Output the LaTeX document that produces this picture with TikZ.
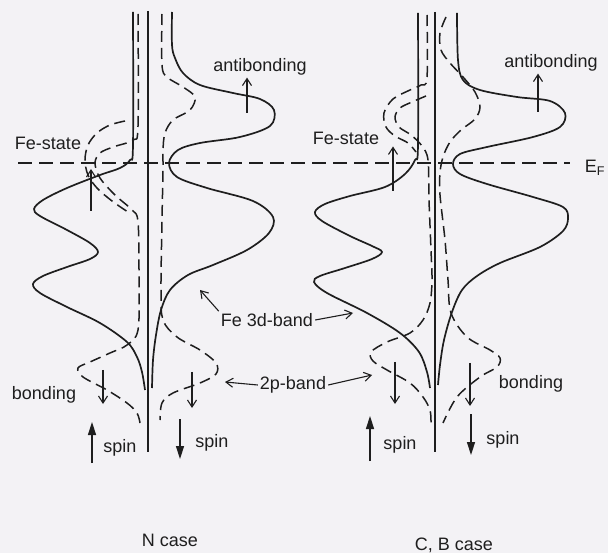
\documentclass[tikz,border=0pt]{standalone}
\usepackage{fontspec}
\setmainfont{Liberation Sans}
\usepackage{tikz}
\usetikzlibrary{arrows.meta}
\definecolor{paper}{RGB}{243,242,245}
\definecolor{ink}{RGB}{30,30,30}

\begin{document}
\begin{tikzpicture}[
      x=1pt, y=-1pt,
      >={Straight Barb[length=7pt, width=9pt]},
      every node/.style={font=\fontsize{18}{20}\selectfont, text=ink, inner sep=2pt},
      dos/.style={draw=ink, line width=1.7pt},
      pdos/.style={draw=ink, line width=1.5pt, dash pattern=on 11pt off 6pt},
      axis/.style={draw=ink, line width=1.2pt},
      fermi/.style={draw=ink, line width=1.3pt, dash pattern=on 14pt off 7pt},
      thin arrow/.style={draw=ink, line width=1.1pt, ->},
      spin arrow/.style={draw=ink, line width=1.5pt, -{Triangle[length=13pt, width=8pt]}},
    ]

    \fill[paper] (0,0) rectangle (608,553);

    % N case
    \draw[axis] (148,11) -- (148,452);
    \draw[dos] plot[smooth, tension=0.55] coordinates {
      (133,12) (133,145) (130,160) (120,168) (100,175) (67,188) (43,200)
      (34,209) (40,216) (67,230) (90,243) (98,252) (90,259) (67,267)
      (43,276) (33,284) (40,293) (67,307) (100,323) (127,342) (137,357)
      (142,372) (145,390)};
    \draw[dos] plot[smooth, tension=0.55] coordinates {
      (172,12) (172,45) (175,58) (183,73) (200,85) (233,93) (260,99)
      (274,110) (270,126) (240,137) (200,143) (178,150) (169,163) (177,177)
      (207,188) (253,201) (273,217) (269,233) (247,250) (213,265) (188,275)
      (170,290) (161,310) (156,335) (153,360) (152,388)};
    \draw[pdos] plot[smooth, tension=0.55] coordinates {
      (138,14) (138,126) (133,140) (113,147) (100,153) (95,163) (100,178)
      (115,195) (132,210) (138,222) (139,280) (138,330) (127,345) (110,353)
      (90,362) (78,368) (83,377) (107,390) (127,403) (137,413) (140,423)};
    \draw[pdos] plot[smooth, tension=0.55] coordinates {
      (125,121) (110,125) (97,133) (88,145) (85,160) (88,175) (97,188)
      (112,201) (128,212)};
    \draw[pdos] plot[smooth, tension=0.55] coordinates {
      (162,14) (162,65) (167,77) (183,87) (195,97) (190,110) (173,120)
      (165,133) (163,150) (163,170) (162,220) (161,290) (163,320) (177,337)
      (200,350) (216,363) (216,374) (200,383) (173,393) (162,403) (160,420)};

    % C, B case
    \draw[axis] (435,12) -- (435,452);
    \draw[dos] plot[smooth, tension=0.55] coordinates {
      (418,13) (418,145) (415,160) (405,174) (385,187) (350,196) (325,204)
      (315,212) (322,221) (350,236) (372,246) (382,252) (372,259) (345,268)
      (320,276) (314,282) (327,293) (367,313) (400,333) (419,352) (427,372)
      (430,388)};
    \draw[dos] plot[smooth, tension=0.55] coordinates {
      (457,13) (458,60) (463,80) (480,90) (517,97) (550,101) (565,113)
      (560,127) (533,137) (487,147) (460,154) (453,164) (460,174) (487,184)
      (533,197) (563,207) (568,218) (563,231) (540,247) (500,263) (477,276)
      (462,290) (452,312) (444,340) (440,365) (438,385)};
    \draw[pdos] plot[smooth, tension=0.55] coordinates {
      (427,15) (427,78) (421,85) (410,90) (393,99) (384,113) (386,127)
      (395,136) (408,143) (416,152)};
    \draw[pdos] plot[smooth, tension=0.55] coordinates {
      (426,96) (412,102) (400,108) (395,117) (399,127) (411,135) (422,146)
      (428,160) (429,200) (431,250) (432,280) (430,303) (423,320) (410,333)
      (387,342) (371,352) (373,361) (387,370) (410,383) (423,397) (430,410)
      (431,423)};
    \draw[pdos] plot[smooth, tension=0.55] coordinates {
      (446,17) (440,33) (441,50) (450,63) (463,77) (475,92) (480,107)
      (475,119) (461,130) (450,142) (443,157) (440,173) (440,195) (445,240)
      (448,280) (451,313) (467,337) (490,350) (500,358) (497,367) (480,377)
      (457,397) (443,423)};

    % Fermi level
    \coordinate (efL) at (18,163);
    \coordinate (efR) at (570,163);
    \draw[fermi] (efL) -- (efR);

    \node (ef)     at (595,168) {E\textsubscript{F}};
    \node (abL)    at (260,67)  {antibonding};
    \node (abR)    at (551,63)  {antibonding};
    \node (fesL)   at (48,143)  {Fe-state};
    \node (fesR)   at (346,138) {Fe-state};
    \node (fe3d)   at (267,320) {Fe 3d-band};
    \node (p2)     at (293,385) {2p-band};
    \node (bndL)   at (44,395)  {bonding};
    \node (bndR)   at (531,384) {bonding};
    \node (spUL)   at (120,448) {spin};
    \node (spDL)   at (212,443) {spin};
    \node (spUR)   at (400,445) {spin};
    \node (spDR)   at (503,440) {spin};
    \node (caseN)  at (170,540) {N case};
    \node (caseCB) at (454,545) {C, B case};

    \coordinate (abLt)  at (247,113);
    \coordinate (abRt)  at (538,112);
    \coordinate (fesLt) at (91,211);
    \coordinate (fesLh) at (91,169);
    \coordinate (fesRt) at (393,191);
    \coordinate (fe3dL) at (200,290);
    \coordinate (fe3dR) at (353,313);
    \coordinate (p2L)   at (225,382);
    \coordinate (p2R)   at (372,375);
    \coordinate (bdLat) at (103,370);
    \coordinate (bdLah) at (103,404);
    \coordinate (bdLbt) at (192,372);
    \coordinate (bdLbh) at (192,408);
    \coordinate (bdRat) at (395,362);
    \coordinate (bdRah) at (395,404);
    \coordinate (bdRbt) at (470,363);
    \coordinate (bdRbh) at (470,406);
    \coordinate (suLt)  at (92,463);
    \coordinate (suLh)  at (92,422);
    \coordinate (sdLt)  at (180,419);
    \coordinate (sdLh)  at (180,459);
    \coordinate (suRt)  at (370,461);
    \coordinate (suRh)  at (370,416);
    \coordinate (sdRt)  at (471,414);
    \coordinate (sdRh)  at (471,455);

    \draw[thin arrow] (abLt) -- (abLt |- abL.south);
    \draw[thin arrow] (abRt) -- (abRt |- abR.south);
    \draw[thin arrow] (fesLt) -- (fesLh);
    \draw[thin arrow] (fesRt) -- (fesRt |- fesR.south);
    \draw[thin arrow] (fe3d.north west) -- (fe3dL);
    \draw[thin arrow] (fe3d.east) -- (fe3dR);
    \draw[thin arrow] (p2.west) -- (p2L);
    \draw[thin arrow] (p2.east) -- (p2R);
    \draw[thin arrow] (bdLat) -- (bdLah);
    \draw[thin arrow] (bdLbt) -- (bdLbh);
    \draw[thin arrow] (bdRat) -- (bdRah);
    \draw[thin arrow] (bdRbt) -- (bdRbh);
    \draw[spin arrow] (suLt) -- (suLh);
    \draw[spin arrow] (sdLt) -- (sdLh);
    \draw[spin arrow] (suRt) -- (suRh);
    \draw[spin arrow] (sdRt) -- (sdRh);

  \end{tikzpicture}
\end{document}
